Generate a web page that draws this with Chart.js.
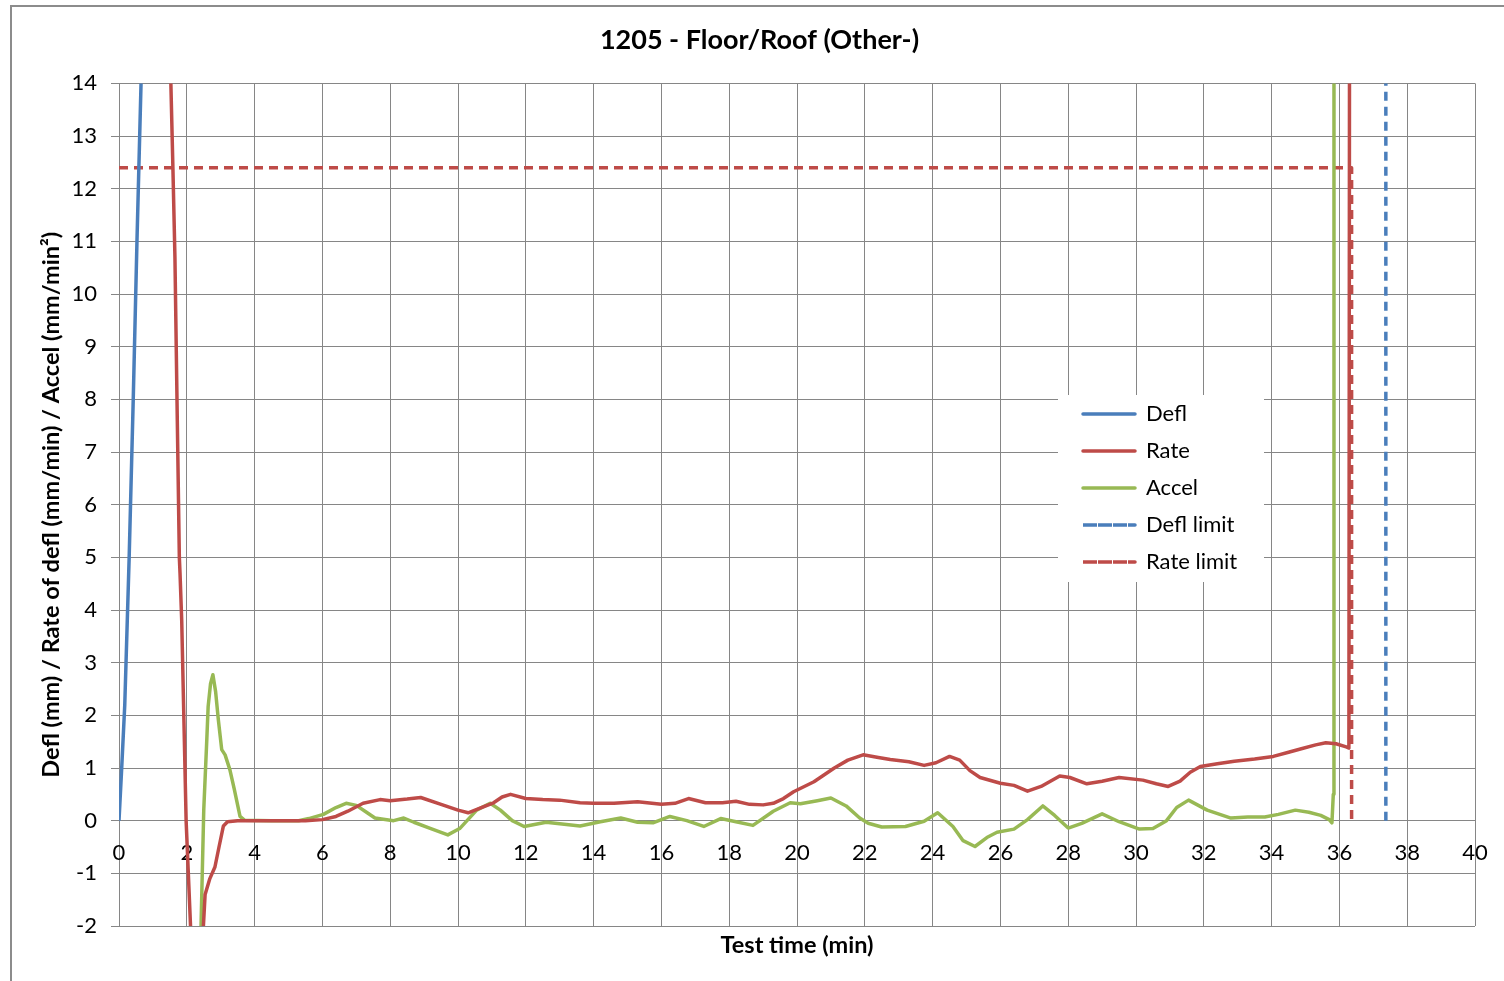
<!DOCTYPE html>
<html>
<head>
<meta charset="utf-8">
<title>1205 - Floor/Roof (Other-)</title>
<script src="https://cdn.jsdelivr.net/npm/chart.js@4.4.0/dist/chart.umd.min.js"></script>
<style>
  body { margin: 0; background: #fff; }
  #frame { position: absolute; left: 10px; top: 5px; width: 1500px; height: 980px;
           border-top: 2px solid #8c8c8c; border-left: 2px solid #8c8c8c; }
  #chart { position: absolute; left: 0; top: 0; }
</style>
</head>
<body>
<div id="frame"></div>
<canvas id="chart" width="1504" height="981"></canvas>
<script>
var chartTitle = '1205 - Floor/Roof (Other-)';
var xTitle = 'Test time (min)';
var yTitle = 'Defl (mm) / Rate of defl (mm/min) / Accel (mm/min²)';
var seriesNames = ['Defl', 'Rate', 'Accel', 'Defl limit', 'Rate limit'];

// deflection (mm) against test time (min)
var deflTime = [0, 0.08, 0.17, 0.3, 0.42, 0.53, 0.65, 0.8];
var deflValue = [0, 1.0, 2.2, 5.0, 8.0, 11.0, 14.0, 17.5];

// rate of deflection (mm/min)
var rateTime = [1.45, 1.53, 1.59, 1.65, 1.72, 1.78, 1.8, 1.85, 1.98, 2.11, 2.3, 2.45, 2.49, 2.54, 2.68, 2.83, 2.95, 3.08, 3.2, 3.5,
  4.5, 5.5, 6.0, 6.4, 6.75, 7.2, 7.7, 8.0, 8.5, 8.9, 9.5, 10.0, 10.3, 10.65, 11.05, 11.3, 11.55, 12.0, 12.5, 13.0,
  13.6, 14.0, 14.6, 15.3, 16.0, 16.4, 16.8, 17.3, 17.8, 18.2, 18.6, 19.0, 19.3, 19.6, 19.9, 20.5, 21.1, 21.5, 21.95, 22.4,
  22.75, 23.3, 23.75, 24.1, 24.5, 24.8, 25.1, 25.4, 26.0, 26.4, 26.8, 27.2, 27.75, 28.05, 28.55, 29.0, 29.5, 30.2, 30.6, 30.95,
  31.3, 31.6, 31.9, 32.4, 32.9, 33.5, 34.05, 34.5, 34.85, 35.3, 35.6, 35.9, 36.2, 36.28, 36.3];
var rateValue = [17, 14, 12.4, 10.7, 7.6, 5.0, 4.7, 3.8, 0, -2, -4.5, -2.8, -2, -1.4, -1.1, -0.88, -0.5, -0.1, -0.02, 0,
  0, 0, 0.02, 0.08, 0.18, 0.33, 0.4, 0.38, 0.41, 0.44, 0.31, 0.2, 0.15, 0.24, 0.34, 0.45, 0.5, 0.42, 0.4, 0.39,
  0.34, 0.33, 0.33, 0.36, 0.31, 0.33, 0.42, 0.34, 0.34, 0.37, 0.31, 0.3, 0.33, 0.42, 0.55, 0.74, 1.0, 1.15, 1.25, 1.2,
  1.16, 1.12, 1.05, 1.1, 1.22, 1.15, 0.95, 0.82, 0.71, 0.67, 0.56, 0.65, 0.85, 0.82, 0.7, 0.75, 0.82, 0.77, 0.7, 0.65,
  0.75, 0.92, 1.03, 1.08, 1.13, 1.17, 1.22, 1.3, 1.36, 1.44, 1.48, 1.46, 1.4, 1.38, 16];

// acceleration (mm/min²)
var accelTime = [2.35, 2.42, 2.5, 2.59, 2.63, 2.7, 2.77, 2.85, 2.93, 3.03, 3.13, 3.27, 3.4, 3.57, 3.7, 4.5, 5.3, 5.6, 6.03, 6.4,
  6.7, 7.0, 7.3, 7.55, 8.1, 8.4, 8.7, 9.2, 9.7, 10.05, 10.55, 10.95, 11.25, 11.6, 11.95, 12.6, 13.0, 13.6, 14.2, 14.8,
  15.3, 15.75, 16.25, 16.75, 17.25, 17.75, 18.2, 18.7, 19.3, 19.8, 20.1, 20.6, 21.0, 21.45, 21.85, 22.1, 22.5, 23.2, 23.75, 24.15,
  24.6, 24.9, 25.25, 25.6, 25.9, 26.4, 26.8, 27.25, 27.6, 28.0, 28.4, 29.0, 29.5, 30.1, 30.5, 30.9, 31.2, 31.55, 32.1, 32.8,
  33.3, 33.8, 34.2, 34.7, 35.1, 35.45, 35.7, 35.78, 35.82, 35.84];
var accelValue = [-5, -2, 0.2, 1.54, 2.17, 2.6, 2.77, 2.45, 1.92, 1.35, 1.25, 0.97, 0.6, 0.08, 0.01, 0, 0, 0.04, 0.12, 0.25,
  0.33, 0.29, 0.16, 0.05, 0, 0.05, -0.03, -0.15, -0.27, -0.15, 0.2, 0.33, 0.2, 0, -0.11, -0.03, -0.06, -0.1, -0.02, 0.05,
  -0.03, -0.04, 0.08, 0, -0.11, 0.04, -0.02, -0.09, 0.18, 0.34, 0.32, 0.38, 0.43, 0.28, 0.05, -0.05, -0.12, -0.11, -0.01, 0.15,
  -0.11, -0.38, -0.49, -0.32, -0.22, -0.16, 0.02, 0.28, 0.1, -0.14, -0.05, 0.13, -0.02, -0.16, -0.15, 0, 0.25, 0.39, 0.2, 0.05,
  0.07, 0.07, 0.12, 0.2, 0.16, 0.1, 0.02, -0.04, 0.5, 16];

// limit lines
var deflLimitTime = [37.37, 37.37];
var deflLimitValue = [0, 15];
var rateLimitTime = [0, 36.36, 36.36];
var rateLimitValue = [12.4, 12.4, 0];

var xTicks = { min: 0, max: 40, step: 2 };
var yTicks = { min: -2, max: 14, step: 1 };

function toPoints(xs, ys) {
  var pts = [];
  for (var i = 0; i < xs.length; i++) {
    pts.push({ x: xs[i], y: ys[i] });
  }
  return pts;
}

function makeSeries(name, xs, ys, color, dash) {
  return {
    label: name,
    data: toPoints(xs, ys),
    showLine: true,
    borderColor: color,
    backgroundColor: color,
    borderWidth: 3.5,
    borderDash: dash,
    borderJoinStyle: 'round',
    pointRadius: 0,
    pointHoverRadius: 0,
    tension: 0
  };
}

// puts the legend at a fixed spot inside the plot with a white card behind it
var legendCard = {
  id: 'legendCard',
  afterLayout: function (chart) {
    var lg = chart.legend;
    lg.left = 1068;
    lg.top = 388;
    lg.right = 1264;
    lg.bottom = 640;
    if (!lg.cardAdded) {
      var drawLegend = lg.draw;
      lg.draw = function () {
        var ctx = this.ctx;
        ctx.save();
        ctx.fillStyle = '#ffffff';
        ctx.fillRect(1058, 395, 206, 187);
        ctx.restore();
        drawLegend.apply(this, arguments);
      };
      lg.cardAdded = true;
    }
  }
};

var tickFont = { family: 'Lato', size: 22 };
var titleFont = { family: 'Lato', size: 23.5, weight: 'bold' };

var ctx = document.getElementById('chart').getContext('2d');
var chart = new Chart(ctx, {
  type: 'scatter',
  data: {
    datasets: [
      makeSeries(seriesNames[0], deflTime, deflValue, '#4a7ebb', []),
      makeSeries(seriesNames[1], rateTime, rateValue, '#be4b48', []),
      makeSeries(seriesNames[2], accelTime, accelValue, '#98b954', []),
      makeSeries(seriesNames[3], deflLimitTime, deflLimitValue, '#4a7ebb', [9, 6]),
      makeSeries(seriesNames[4], rateLimitTime, rateLimitValue, '#be4b48', [9, 6])
    ]
  },
  options: {
    responsive: false,
    animation: false,
    layout: { padding: { left: 44, right: 29, top: 10, bottom: 55 } },
    plugins: {
      title: {
        display: true,
        text: chartTitle,
        color: '#000',
        font: { family: 'Lato', size: 27, weight: 'bold' },
        padding: { top: 14, bottom: 27 }
      },
      legend: {
        position: 'chartArea',
        align: 'start',
        labels: { boxWidth: 52, boxHeight: 0, padding: 15, color: '#000', font: tickFont }
      },
      tooltip: { enabled: false }
    },
    scales: {
      x: {
        type: 'linear',
        position: { y: 0 },
        min: xTicks.min,
        max: xTicks.max,
        ticks: { stepSize: xTicks.step, padding: 19, color: '#000', font: tickFont },
        grid: { color: '#868686', drawTicks: false },
        border: { display: false },
        title: { display: true, text: xTitle, color: '#000', font: titleFont, padding: { top: 46, bottom: 0 } },
        // the end labels fit inside the layout padding already
        afterFit: function (scale) { scale.paddingLeft = 0; scale.paddingRight = 0; }
      },
      y: {
        type: 'linear',
        min: yTicks.min,
        max: yTicks.max,
        ticks: { stepSize: yTicks.step, padding: 14, color: '#000', font: tickFont },
        grid: { color: '#868686', tickLength: 8 },
        border: { display: false },
        title: { display: true, text: yTitle, color: '#000', font: titleFont, padding: { top: -7, bottom: 0 } },
        afterFit: function (scale) { scale.width = 75; }
      }
    }
  },
  plugins: [legendCard]
});
</script>
</body>
</html>
